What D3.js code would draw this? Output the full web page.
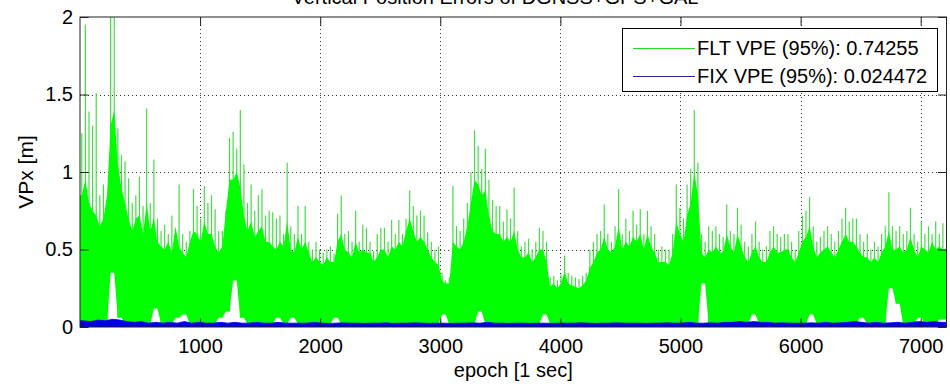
<!DOCTYPE html>
<html><head><meta charset="utf-8">
<script src="https://cdn.jsdelivr.net/npm/d3@7"></script>
<style>
body{margin:0;background:#fff;}
text{font-family:"Liberation Sans",Arial,sans-serif;fill:#000;}
</style>
</head><body>
<svg id="c" width="950" height="384"></svg>
<script>
// ---------------- data ----------------
const titleText = "Vertical Position Errors of DGNSS+GPS+GAL";
const xLabel = "epoch [1 sec]";
const yLabel = "VPx [m]";
const xTicks = [1000, 2000, 3000, 4000, 5000, 6000, 7000];
const yTicks = [0, 0.5, 1, 1.5, 2];
const yTickLabels = ["0", "0.5", "1", "1.5", "2"];
const legendLabels = ["FLT VPE (95%): 0.74255", "FIX VPE (95%): 0.024472"];
const epochMax = 7215;

// FLT VPE: local peak per 30-epoch bin (epochs 0..7200)
const fltPeak = [
1.25,1.95,1.39,1.30,1.51,0.85,0.92,0.75,2.10,2.10,
1.28,1.11,1.07,0.96,0.80,0.85,0.97,0.78,1.41,0.80,
1.08,0.70,0.62,0.66,0.60,0.72,0.55,0.92,0.60,0.55,
0.62,0.89,0.78,0.70,0.91,0.80,0.85,0.76,0.62,0.62,
0.75,1.22,1.26,1.15,1.40,1.05,0.80,0.92,0.75,0.85,
0.89,0.72,0.75,0.74,0.70,0.72,0.60,1.06,0.65,0.60,
0.78,0.60,0.78,0.55,0.50,0.55,0.50,0.48,0.50,0.52,
0.47,0.73,0.85,0.60,0.62,0.55,0.75,0.55,0.66,0.64,
0.55,0.49,0.60,0.64,0.64,0.55,0.69,0.60,0.69,0.60,
0.70,0.88,0.78,0.72,0.75,0.72,0.61,0.55,0.50,0.52,
0.35,0.30,0.32,0.91,0.65,0.62,0.70,0.80,1.00,1.27,
1.17,1.02,1.15,0.95,0.82,0.78,0.78,0.68,0.76,0.70,
0.90,0.62,0.52,0.55,0.57,0.50,0.55,0.64,0.62,0.55,
0.32,0.33,0.30,0.34,0.46,0.35,0.33,0.32,0.31,0.33,
0.35,0.50,0.55,0.60,0.62,0.79,0.60,0.55,0.65,0.89,
0.60,0.70,0.62,0.75,0.66,0.76,0.60,0.75,0.65,0.60,
0.50,0.52,0.50,0.50,0.60,0.92,0.77,0.70,0.92,1.02,
1.40,1.06,0.60,0.55,0.65,0.62,0.65,0.60,0.58,0.79,
0.62,0.60,0.77,0.66,0.55,0.52,0.60,0.68,0.55,0.50,
0.52,0.62,0.65,0.60,0.58,0.60,0.60,0.55,0.50,0.62,
0.72,0.75,0.84,0.65,0.55,0.58,0.62,0.65,0.60,0.55,
0.62,0.70,0.77,0.68,0.70,0.70,0.60,0.55,0.60,0.50,
0.55,0.52,0.60,0.65,0.87,0.65,0.62,0.65,0.60,0.62,
0.77,0.60,0.55,0.68,0.60,0.65,0.60,0.68,0.60,0.67
];
// FLT VPE: upper edge of the dense band, per 30-epoch bin
const fltCore = [
0.85,0.95,0.80,0.75,0.72,0.65,0.70,0.85,1.30,1.40,
1.05,0.90,0.80,0.70,0.62,0.70,0.72,0.60,0.80,0.62,
0.70,0.55,0.52,0.50,0.55,0.48,0.65,0.52,0.48,0.45,
0.55,0.62,0.60,0.55,0.68,0.60,0.60,0.52,0.48,0.52,
0.75,0.95,0.95,1.00,0.90,0.72,0.62,0.68,0.58,0.62,
0.65,0.55,0.55,0.52,0.50,0.55,0.52,0.68,0.50,0.48,
0.58,0.50,0.55,0.48,0.42,0.45,0.42,0.40,0.45,0.42,
0.42,0.55,0.60,0.50,0.48,0.45,0.55,0.48,0.50,0.48,
0.48,0.42,0.45,0.50,0.50,0.45,0.52,0.50,0.55,0.52,
0.62,0.70,0.62,0.55,0.58,0.55,0.50,0.45,0.42,0.40,
0.30,0.28,0.28,0.55,0.52,0.50,0.55,0.65,0.80,0.95,
0.92,0.85,0.88,0.72,0.62,0.60,0.60,0.55,0.58,0.55,
0.62,0.50,0.45,0.45,0.48,0.42,0.45,0.50,0.50,0.42,
0.26,0.28,0.25,0.28,0.36,0.28,0.27,0.26,0.25,0.27,
0.30,0.38,0.42,0.48,0.50,0.58,0.50,0.48,0.52,0.65,
0.50,0.55,0.52,0.58,0.55,0.60,0.50,0.60,0.52,0.48,
0.42,0.42,0.42,0.40,0.48,0.68,0.60,0.55,0.72,0.80,
1.00,0.85,0.48,0.45,0.50,0.48,0.52,0.48,0.48,0.60,
0.52,0.48,0.60,0.52,0.45,0.42,0.48,0.52,0.45,0.42,
0.42,0.48,0.52,0.48,0.48,0.50,0.50,0.45,0.42,0.48,
0.55,0.58,0.65,0.52,0.45,0.48,0.50,0.52,0.48,0.45,
0.50,0.55,0.60,0.55,0.55,0.52,0.48,0.45,0.45,0.42,
0.45,0.42,0.48,0.52,0.62,0.50,0.50,0.52,0.48,0.50,
0.58,0.50,0.45,0.52,0.50,0.48,0.55,0.50,0.52,0.50
];
// FLT VPE: lower edge of the band, per 60-epoch bin
const fltLow = [
0.02,0.02,0.03,0.02,0.35,0.06,0.02,0.02,0.02,0.02,
0.12,0.02,0.02,0.06,0.08,0.02,0.02,0.02,0.02,0.06,
0.10,0.30,0.06,0.02,0.02,0.02,0.02,0.06,0.02,0.06,
0.02,0.02,0.02,0.02,0.02,0.06,0.02,0.02,0.02,0.02,
0.02,0.02,0.02,0.02,0.02,0.02,0.02,0.02,0.02,0.02,
0.08,0.02,0.02,0.02,0.02,0.10,0.02,0.02,0.02,0.02,
0.02,0.02,0.02,0.02,0.08,0.02,0.02,0.02,0.02,0.02,
0.02,0.02,0.02,0.02,0.02,0.02,0.02,0.02,0.02,0.02,
0.02,0.02,0.02,0.02,0.02,0.02,0.28,0.02,0.02,0.02,
0.02,0.02,0.02,0.08,0.02,0.02,0.02,0.02,0.02,0.02,
0.02,0.08,0.02,0.02,0.02,0.02,0.02,0.02,0.06,0.02,
0.02,0.02,0.25,0.15,0.02,0.02,0.06,0.02,0.02,0.05
];
// FIX VPE: top of the band, per 60-epoch bin
const fixTop = [
0.040,0.035,0.045,0.040,0.050,0.045,0.035,0.030,0.035,0.025,
0.030,0.025,0.030,0.025,0.035,0.025,0.030,0.025,0.025,0.030,
0.025,0.030,0.025,0.025,0.030,0.025,0.025,0.030,0.025,0.025,
0.025,0.025,0.030,0.025,0.023,0.025,0.027,0.025,0.025,0.023,
0.025,0.025,0.027,0.023,0.025,0.025,0.027,0.025,0.023,0.025,
0.025,0.023,0.025,0.025,0.027,0.025,0.030,0.025,0.025,0.023,
0.025,0.025,0.023,0.025,0.025,0.023,0.025,0.025,0.025,0.027,
0.025,0.023,0.025,0.025,0.027,0.025,0.025,0.025,0.023,0.025,
0.025,0.027,0.025,0.025,0.030,0.025,0.025,0.027,0.025,0.030,
0.030,0.035,0.030,0.035,0.030,0.030,0.025,0.027,0.025,0.025,
0.025,0.027,0.025,0.030,0.025,0.027,0.030,0.035,0.030,0.025,
0.030,0.025,0.027,0.030,0.025,0.030,0.035,0.030,0.035,0.030
];
const peakBin = 30, bandBin = 60;

// ---------------- chart ----------------
const svg = d3.select("#c");
const L = 80, R = 946.5, T = 17, B = 327;
const x = d3.scaleLinear().domain([0, epochMax]).range([L, R]);
const y = d3.scaleLinear().domain([0, 2]).range([B, T]);
const tickLen = 8.6;
const fs = 20;

svg.append("rect").attr("width", 950).attr("height", 384).attr("fill", "#fff");

svg.append("defs").append("clipPath").attr("id", "clip")
  .append("rect").attr("x", L).attr("y", T).attr("width", R - L).attr("height", B - T);

// grid
const grid = svg.append("g").attr("stroke", "#000").attr("stroke-width", 1)
  .attr("stroke-dasharray", "1,3").attr("shape-rendering", "crispEdges").attr("opacity", 0.8);
grid.selectAll(".gx").data(xTicks).enter().append("line")
  .attr("x1", d => Math.round(x(d)) + 0.5).attr("x2", d => Math.round(x(d)) + 0.5)
  .attr("y1", T).attr("y2", B);
grid.selectAll(".gy").data(yTicks.filter(v => v > 0 && v < 2)).enter().append("line")
  .attr("y1", d => Math.round(y(d)) + 0.5).attr("y2", d => Math.round(y(d)) + 0.5)
  .attr("x1", L).attr("x2", R);

const plot = svg.append("g").attr("clip-path", "url(#clip)");

// FLT spikes
const spikes = fltPeak.map((p, i) => {
  const e = i * peakBin + peakBin / 2;
  return { e, hi: p, lo: fltLow[Math.floor(e / bandBin)] };
});
plot.append("g").selectAll("line").data(spikes).enter().append("line")
  .attr("x1", d => x(d.e)).attr("x2", d => x(d.e))
  .attr("y1", d => y(d.lo)).attr("y2", d => y(d.hi))
  .attr("stroke", "#44dd44").attr("stroke-width", 1.2);

// FLT dense band
const band = fltCore.map((c, i) => {
  const e = i * peakBin + peakBin / 2;
  return { e, hi: c, lo: fltLow[Math.floor(e / bandBin)] };
});
band.unshift({ e: 0, hi: fltCore[0], lo: fltLow[0] });
band.push({ e: epochMax, hi: fltCore[fltCore.length - 1], lo: fltLow[fltLow.length - 1] });
plot.append("path").datum(band)
  .attr("fill", "#00ff00")
  .attr("d", d3.area().x(d => x(d.e)).y0(d => y(d.lo)).y1(d => y(d.hi)));

// FIX band
const fixBand = fixTop.map((v, i) => ({ e: i * bandBin + bandBin / 2, v }));
fixBand.unshift({ e: 0, v: fixTop[0] });
fixBand.push({ e: epochMax, v: fixTop[fixTop.length - 1] });
plot.append("path").datum(fixBand)
  .attr("fill", "#0000e6")
  .attr("d", d3.area().x(d => x(d.e)).y0(y(0)).y1(d => y(d.v)));
plot.append("path").datum(fixBand)
  .attr("fill", "none").attr("stroke", "#0000e6").attr("stroke-width", 0.8)
  .attr("d", d3.line().x(d => x(d.e)).y(d => y(d.v)));

// axes (ticks inside, box)
const axCol = "#222";
function styleAxis(g, showLabels) {
  g.select(".domain").remove();
  g.selectAll(".tick line").attr("stroke", axCol);
  g.selectAll(".tick text").attr("font-size", fs).attr("font-family", '"Liberation Sans",Arial,sans-serif').attr("fill", "#000");
  if (!showLabels) g.selectAll(".tick text").remove();
}
svg.append("g").attr("transform", `translate(0,${B})`)
  .call(d3.axisBottom(x).tickValues(xTicks).tickSizeInner(-tickLen).tickSizeOuter(0).tickPadding(12).tickFormat(d3.format("d")))
  .call(g => styleAxis(g, true));
svg.append("g").attr("transform", `translate(0,${T})`)
  .call(d3.axisTop(x).tickValues(xTicks).tickSizeInner(-tickLen).tickSizeOuter(0))
  .call(g => styleAxis(g, false));
svg.append("g").attr("transform", `translate(${L},0)`)
  .call(d3.axisLeft(y).tickValues(yTicks).tickSizeInner(-tickLen).tickSizeOuter(0).tickPadding(7).tickFormat((d, i) => yTickLabels[i]))
  .call(g => styleAxis(g, true));
svg.append("g").attr("transform", `translate(${R},0)`)
  .call(d3.axisRight(y).tickValues(yTicks).tickSizeInner(-tickLen).tickSizeOuter(0))
  .call(g => styleAxis(g, false));

svg.append("rect").attr("x", L).attr("y", T).attr("width", R - L).attr("height", B - T)
  .attr("fill", "none").attr("stroke", axCol).attr("stroke-width", 1);

// labels
svg.append("text").attr("x", 495).attr("y", 4).attr("text-anchor", "middle").attr("font-size", fs).text(titleText);
svg.append("text").attr("x", (L + R) / 2).attr("y", 377).attr("text-anchor", "middle").attr("font-size", fs).text(xLabel);
svg.append("text").attr("transform", `translate(33,${172}) rotate(-90)`).attr("text-anchor", "middle").attr("font-size", 21).text(yLabel);

// legend
const lg = svg.append("g");
lg.append("rect").attr("x", 622.5).attr("y", 28.5).attr("width", 315).attr("height", 63)
  .attr("fill", "#fff").attr("stroke", "#000").attr("stroke-width", 1);
const legColors = ["#22dd22", "#2a2a9a"];
legendLabels.forEach((t, i) => {
  const yy = 48 + i * 28;
  lg.append("rect").attr("x", 633).attr("y", yy).attr("width", 62).attr("height", 1)
    .attr("fill", legColors[i]).attr("shape-rendering", "crispEdges");
  lg.append("text").attr("x", 697).attr("y", yy + 7).attr("font-size", fs).text(t);
});
</script>
</body></html>
